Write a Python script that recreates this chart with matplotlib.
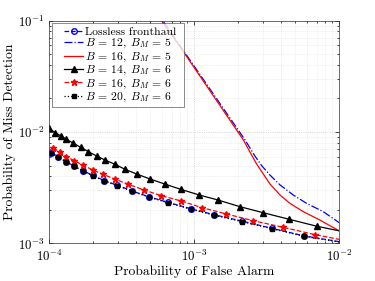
import matplotlib
matplotlib.use("Agg")
import matplotlib.pyplot as plt
from matplotlib.legend_handler import HandlerLine2D
from matplotlib.lines import Line2D

plt.rcParams['font.family'] = 'serif'
plt.rcParams['font.serif'] = ['cmr10']
plt.rcParams['mathtext.fontset'] = 'cm'
plt.rcParams['axes.formatter.use_mathtext'] = True

# Lossless fronthaul (blue circles)
pfa_lossless = [1.04e-4, 1.16e-4, 1.31e-4, 1.49e-4, 1.71e-4, 2.0e-4, 2.41e-4, 2.96e-4, 3.74e-4,
                4.87e-4, 6.6e-4, 9.5e-4, 1.38e-3, 2.14e-3, 3.43e-3, 5.74e-3, 1e-2]
pmd_lossless = [6.52e-3, 6.0e-3, 5.42e-3, 4.96e-3, 4.50e-3, 4.09e-3, 3.66e-3, 3.33e-3, 2.96e-3,
                2.63e-3, 2.34e-3, 2.05e-3, 1.81e-3, 1.59e-3, 1.37e-3, 1.17e-3, 1.04e-3]

# B = 20, B_M = 6 (black squares, nearly on top of lossless)
pfa_b20 = pfa_lossless
pmd_b20 = [6.45e-3, 5.95e-3, 5.38e-3, 4.92e-3, 4.46e-3, 4.06e-3, 3.63e-3, 3.30e-3, 2.94e-3,
           2.61e-3, 2.32e-3, 2.03e-3, 1.79e-3, 1.57e-3, 1.36e-3, 1.16e-3, 1.03e-3]

# B = 12, B_M = 5 (blue dash-dot, no markers)
pfa_b12 = [5.47e-4, 6.11e-4, 8.33e-4, 2.25e-3, 2.63e-3, 2.94e-3, 3.34e-3, 3.92e-3, 4.84e-3,
           5.98e-3, 7.79e-3, 1e-2]
pmd_b12 = [1.217e-1, 9.9e-2, 5.52e-2, 8.48e-3, 6.09e-3, 4.96e-3, 4.11e-3, 3.35e-3, 2.72e-3,
           2.29e-3, 1.93e-3, 1.54e-3]

# B = 16, B_M = 5 (red solid, no markers)
pfa_b16m5 = [5.38e-4, 6.02e-4, 8.23e-4, 2.19e-3, 2.43e-3, 2.68e-3, 2.94e-3, 3.34e-3, 3.92e-3,
             4.59e-3, 5.67e-3, 7.40e-3, 1e-2]
pmd_b16m5 = [1.217e-1, 9.9e-2, 5.52e-2, 8.48e-3, 6.62e-3, 5.27e-3, 4.38e-3, 3.42e-3, 2.72e-3,
             2.29e-3, 1.93e-3, 1.62e-3, 1.30e-3]

# B = 14, B_M = 6 (black triangles)
pfa_b14 = [1e-4, 1.1e-4, 1.21e-4, 1.32e-4, 1.47e-4, 1.65e-4, 1.87e-4, 2.13e-4, 2.43e-4, 2.85e-4,
           3.34e-4, 4.02e-4, 4.97e-4, 6.3e-4, 8.1e-4, 1.09e-3, 1.47e-3, 2.07e-3, 2.99e-3,
           4.52e-3, 7.0e-3, 1e-2]
pmd_b14 = [1.08e-2, 9.86e-3, 9.21e-3, 8.60e-3, 7.93e-3, 7.30e-3, 6.66e-3, 6.09e-3, 5.61e-3,
           5.13e-3, 4.63e-3, 4.20e-3, 3.79e-3, 3.41e-3, 3.06e-3, 2.72e-3, 2.45e-3, 2.14e-3,
           1.89e-3, 1.65e-3, 1.43e-3, 1.30e-3]

# B = 16, B_M = 6 (red stars)
pfa_b16m6 = [1.07e-4, 1.20e-4, 1.32e-4, 1.49e-4, 1.71e-4, 2.0e-4, 2.37e-4, 2.85e-4, 3.52e-4,
             4.52e-4, 5.92e-4, 8.1e-4, 1.13e-3, 1.67e-3, 2.57e-3, 4.09e-3, 6.83e-3, 1e-2]
pmd_b16m6 = [7.15e-3, 6.58e-3, 6.0e-3, 5.53e-3, 5.06e-3, 4.56e-3, 4.17e-3, 3.77e-3, 3.40e-3,
             3.02e-3, 2.69e-3, 2.41e-3, 2.10e-3, 1.84e-3, 1.60e-3, 1.40e-3, 1.20e-3, 1.09e-3]

fig = plt.figure(figsize=(3.75, 2.81), dpi=100)
ax = fig.add_axes([0.1307, 0.1335, 0.7733, 0.7935])

lw = 0.9
ax.plot(pfa_lossless, pmd_lossless, '--', color='blue', lw=lw, marker='o', ms=4,
        mfc='none', mec='blue', mew=1.0, markevery=slice(0, -1), label='Lossless fronthaul ')
ax.plot(pfa_b12, pmd_b12, '-.', color='blue', lw=lw, label=r'$B\,=\,12,\ B_M\,=\,5$')
ax.plot(pfa_b16m5, pmd_b16m5, '-', color='red', lw=lw, label=r'$B\,=\,16,\ B_M\,=\,5$')
ax.plot(pfa_b14, pmd_b14, '-', color='black', lw=lw, marker='^', ms=4,
        markevery=slice(0, -1), label=r'$B\,=\,14,\ B_M\,=\,6$')
ax.plot(pfa_b16m6, pmd_b16m6, '--', color='red', lw=lw, marker='*', ms=5,
        markevery=slice(0, -1), label=r'$B\,=\,16,\ B_M\,=\,6$')
ax.plot(pfa_b20, pmd_b20, ':', color='black', lw=lw, marker='s', ms=2.5,
        markevery=slice(0, -1), label=r'$B\,=\,20,\ B_M\,=\,6$')

ax.set_xscale('log')
ax.set_yscale('log')
ax.set_xlim(1e-4, 1e-2)
ax.set_ylim(1e-3, 1e-1)
ax.set_xlabel('Probability of False Alarm', fontsize=9.8, labelpad=1)
ax.set_ylabel('Probability of Miss Detection', fontsize=9.8, labelpad=1)
ax.tick_params(which='both', direction='in', top=True, right=True, labelsize=9.3, width=0.5)
ax.tick_params(which='major', length=3)
ax.tick_params(which='minor', length=1.5)
ax.grid(True, which='major', linestyle=':', color='#c8c8c8', lw=0.6)
ax.grid(True, which='minor', linestyle=':', color='#e0e0e0', lw=0.5)
for s in ax.spines.values():
    s.set_linewidth(0.5)
    s.set_color('#333333')

leg = ax.legend(loc='upper left', fontsize=8.4, frameon=True, fancybox=False,
                edgecolor='#333333', handlelength=2.4, handletextpad=0.15,
                borderpad=0.3, labelspacing=0.0, borderaxespad=0.25,
                handler_map={Line2D: HandlerLine2D(xpad=0.75)})
leg.get_frame().set_linewidth(0.5)

fig.savefig('out.png', dpi=100)
